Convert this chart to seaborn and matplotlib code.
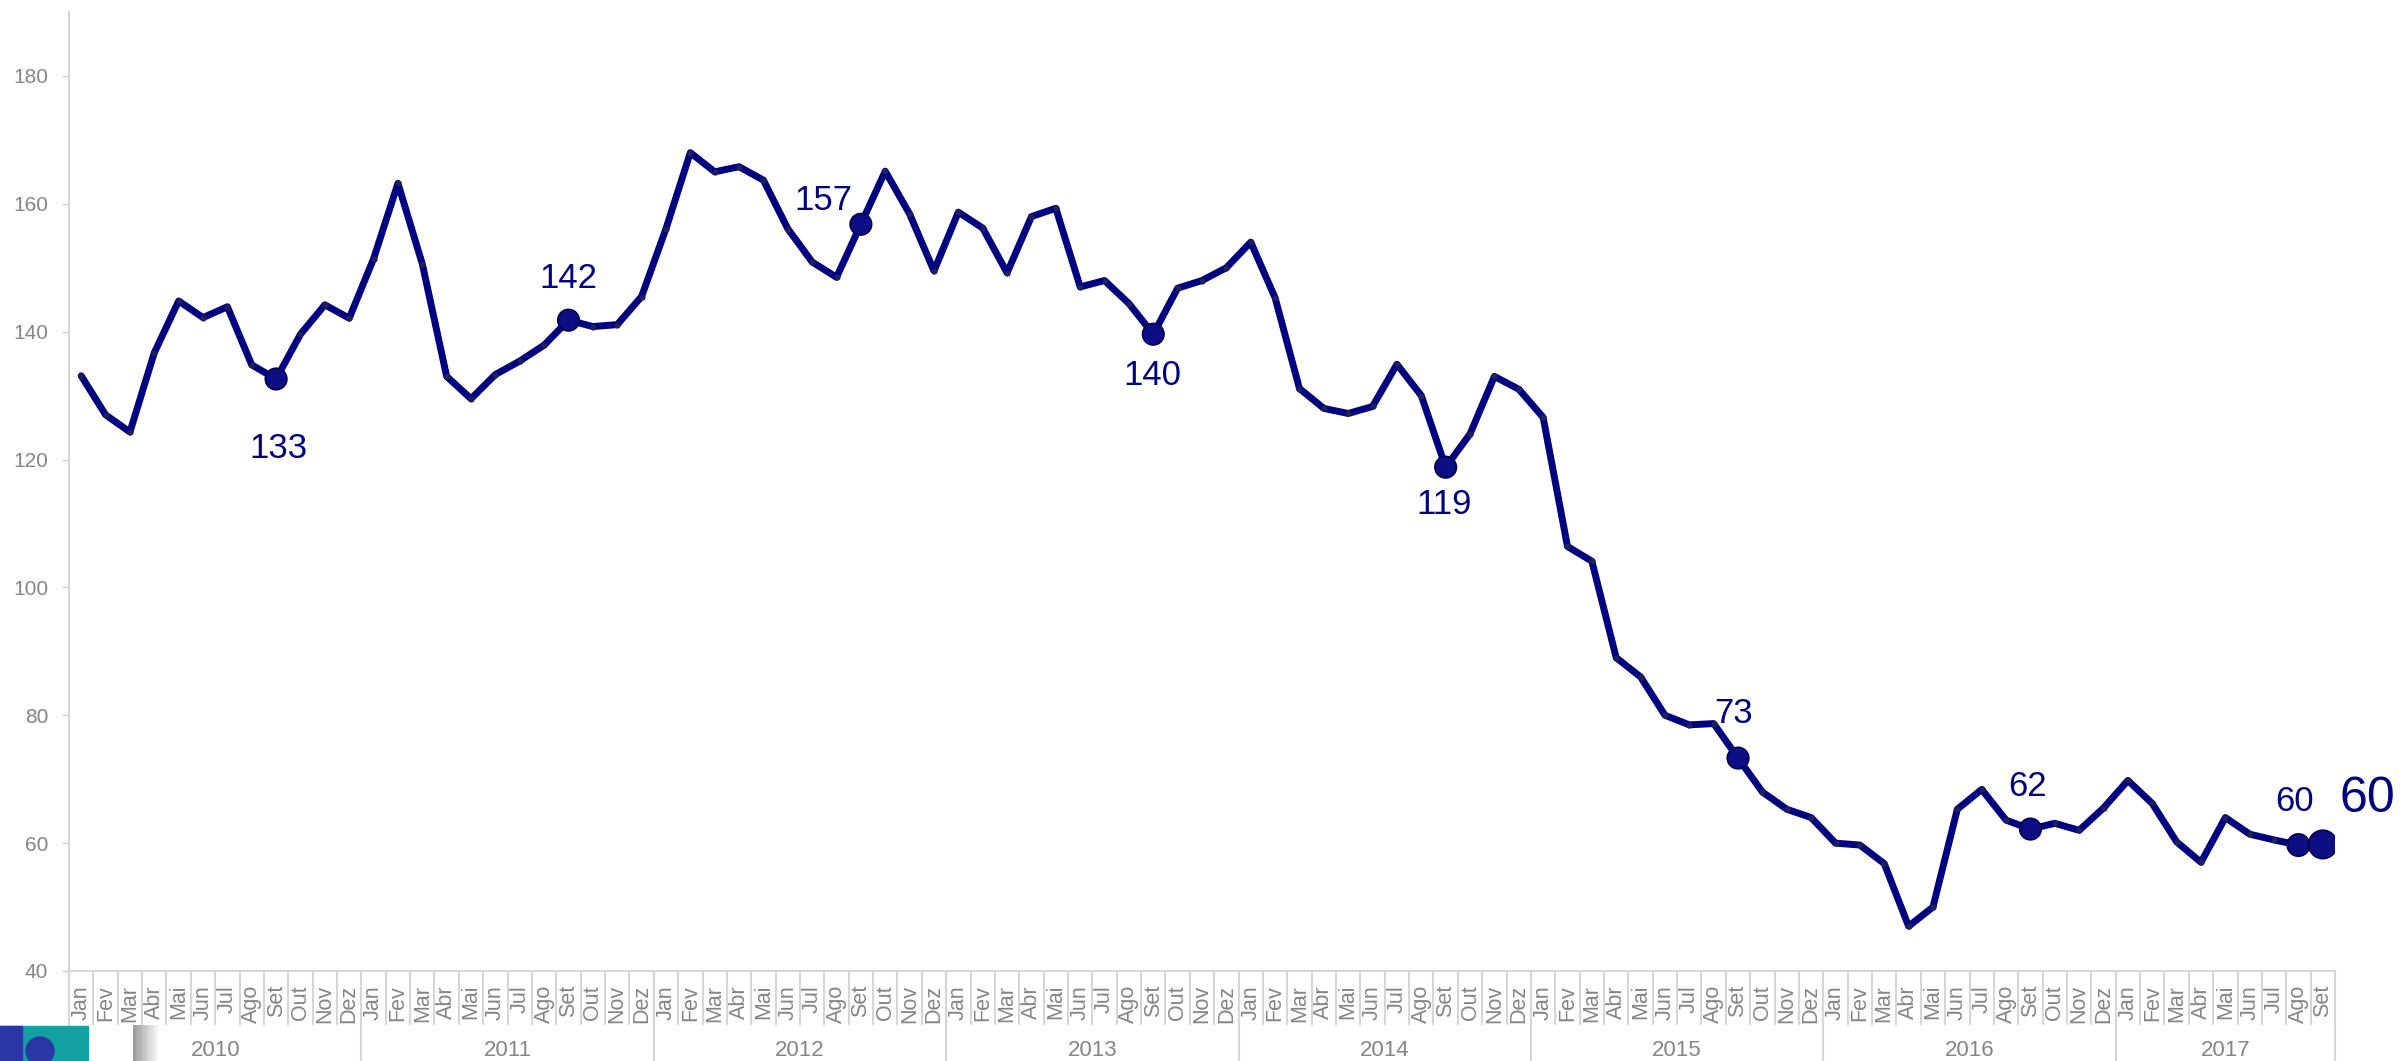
import numpy as np
import pandas as pd
import seaborn as sns
import matplotlib.pyplot as plt
from matplotlib.patches import Rectangle, Ellipse

# | Data |----------------------------------------------------------------------------------------------------------|
years = ["2010", "2011", "2012", "2013", "2014", "2015", "2016", "2017"]
month_names = ["Jan", "Fev", "Mar", "Abr", "Mai", "Jun", "Jul", "Ago", "Set", "Out", "Nov", "Dez"]
months_in_year = [12, 12, 12, 12, 12, 12, 12, 9]

values = [
    133.1, 127.0, 124.3, 136.7, 144.8, 142.2, 143.9, 134.8, 132.6, 139.6, 144.2, 142.1,   # 2010
    151.4, 163.2, 150.6, 133.0, 129.5, 133.3, 135.4, 137.9, 141.8, 140.8, 141.1, 145.5,   # 2011
    156.1, 168.0, 165.0, 165.8, 163.7, 156.1, 150.9, 148.5, 156.8, 165.1, 158.4, 149.5,   # 2012
    158.7, 156.2, 149.2, 158.0, 159.3, 147.0, 148.0, 144.4, 139.6, 146.8, 148.0, 150.0,   # 2013
    154.0, 145.3, 131.1, 128.0, 127.2, 128.3, 134.9, 130.0, 118.8, 124.0, 133.0, 131.0,   # 2014
    126.6, 106.4, 104.1, 89.0, 86.0, 80.0, 78.5, 78.7, 73.3, 68.0, 65.3, 64.0,            # 2015
    60.0, 59.7, 56.8, 47.0, 50.0, 65.3, 68.4, 63.6, 62.2, 63.1, 62.0, 65.5,               # 2016
    69.8, 66.2, 60.2, 57.0, 64.0, 61.4, 60.5, 59.7, 59.8,                                 # 2017
]

# months that carry a value label (Set of each year + Ago 2017)
labeled_idx = [8, 20, 32, 44, 56, 68, 80, 91, 92]
# |--------------------------------------------------------------------------------------------------------------------|

month_labels = []
for n in months_in_year:
    month_labels += month_names[:n]

df = pd.DataFrame({"idx": np.arange(len(values)), "value": values, "month": month_labels})

NAVY = "#000080"
GRID = "#d6d6d6"
TXT = "#858585"

sns.set_theme(style="white")
plt.rcParams["font.family"] = ["Liberation Sans", "DejaVu Sans"]

fig = plt.figure(figsize=(24.06, 10.61), dpi=100)
ax = fig.add_axes([0.02868, 0.08483, 0.94181, 0.90386])

sns.lineplot(data=df, x="idx", y="value", color=NAVY, linewidth=5.0, ax=ax,
             solid_joinstyle="round", solid_capstyle="round", zorder=3)
sns.scatterplot(data=df, x="idx", y="value", color="#20205a", s=20, linewidth=0, ax=ax, zorder=4)

hl = df.iloc[labeled_idx]
sizes = [240] * (len(labeled_idx) - 2) + [260, 420]
sns.scatterplot(x=hl["idx"], y=hl["value"], s=sizes, color="#0d0d84",
                edgecolor="#000050", linewidth=1.2, ax=ax, zorder=5, legend=False)

# label offsets in points (dx, dy) and font sizes
offsets = [(2, -50), (0, 30), (-27, 17), (-1, -30), (-1, -27), (-3, 32), (-2, 31), (-3, 31), (32, 33)]
fsizes = [25] * (len(labeled_idx) - 1) + [36]
for i, (dx, dy), fs in zip(labeled_idx, offsets, fsizes):
    v = values[i]
    ax.annotate(f"{round(v)}", xy=(i, v), xytext=(dx, dy), textcoords="offset points",
                ha="center", va="center", fontsize=fs, color=NAVY, zorder=6)

ax.set_xlim(-0.5, len(values) - 0.5)
ax.set_ylim(40, 190)
ax.set_yticks(range(40, 181, 20))
ax.set_xticks(df["idx"])
ax.set_xticklabels(month_labels, rotation=90, fontsize=15.5, color=TXT)
ax.tick_params(axis="x", length=0, pad=10)
ax.tick_params(axis="y", length=5, width=1, color="#cccccc", labelsize=15, labelcolor=TXT, pad=10, left=True)
ax.set_xlabel("")
ax.set_ylabel("")

for side in ["top", "right"]:
    ax.spines[side].set_visible(False)
for side in ["left", "bottom"]:
    ax.spines[side].set_color(GRID)
    ax.spines[side].set_linewidth(1.5)

# month cells and year groups under the axis
trans = ax.get_xaxis_transform()
bounds = np.arange(len(values) + 1) - 0.5
year_edges = np.concatenate([[0], np.cumsum(months_in_year)]) - 0.5
ax.vlines(bounds, -0.0563, 0, transform=trans, colors=GRID, linewidth=1.5, clip_on=False)
ax.vlines(year_edges, -0.0939, 0, transform=trans, colors=GRID, linewidth=1.5, clip_on=False)
for y, a, b in zip(years, year_edges[:-1], year_edges[1:]):
    ax.text((a + b) / 2, -0.0824, y, transform=trans, ha="center", va="center",
            fontsize=16, color=TXT)

# corner logo fragment
fw, fh = 2406, 1061
fig.patches.append(Rectangle((0, 0), 88 / fw, 35 / fh, transform=fig.transFigure, color="#12a0a0", zorder=0))
fig.patches.append(Rectangle((0, 0), 22 / fw, 35 / fh, transform=fig.transFigure, color="#2b36a6", zorder=1))
fig.patches.append(Ellipse((40 / fw, 10 / fh), 28 / fw, 28 / fh, transform=fig.transFigure,
                           color="#2b36a6", zorder=1))
for k in range(10):
    fig.patches.append(Rectangle(((133 + k * 2.5) / fw, 0), 2.5 / fw, 36 / fh, transform=fig.transFigure,
                                 color="#404040", alpha=0.5 * (1 - k / 10), linewidth=0))

fig.savefig("out.png", dpi=100)
plt.close(fig)
